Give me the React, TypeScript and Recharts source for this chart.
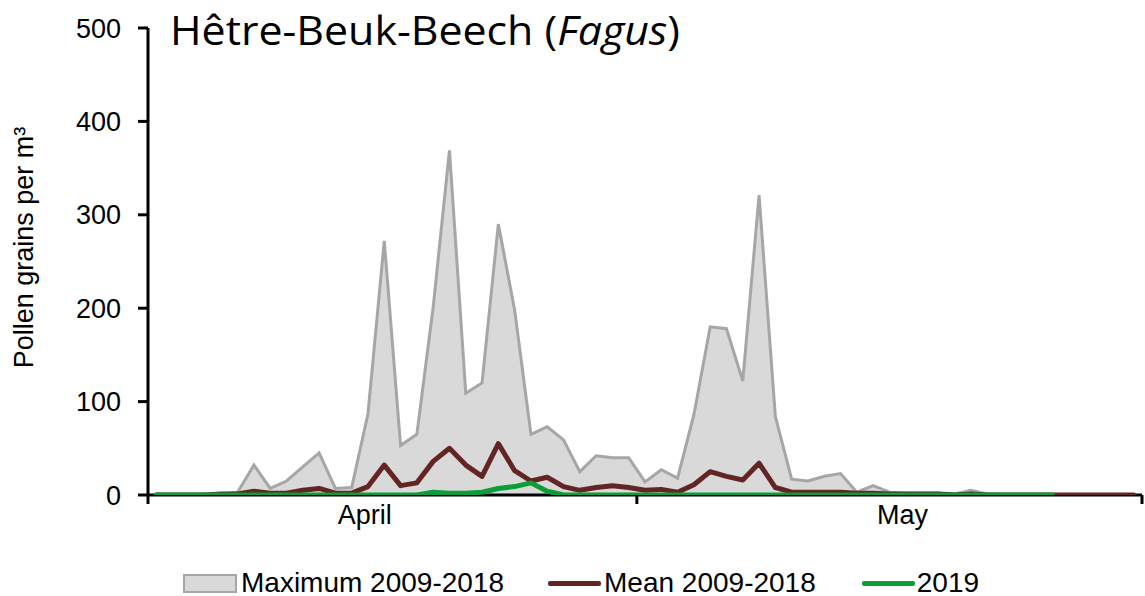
import React from "react";
import { ComposedChart, Area, Line, XAxis, YAxis } from "recharts";

// one entry per day, 1 April .. 31 May
const days: string[] = [
  ...Array.from({ length: 30 }, (_, i) => `${i + 1} Apr`),
  ...Array.from({ length: 31 }, (_, i) => `${i + 1} May`),
];

const maxValues = [
  0, 0, 0, 0, 1, 3, 32, 7, 15, 30,
  45, 7, 8, 87, 272, 53, 65, 201, 369, 109,
  120, 290, 198, 65, 73, 59, 25, 42, 40, 40,
  14, 27, 18, 86, 180, 178, 122, 321, 84, 17,
  15, 20, 23, 3, 10, 3, 2, 2, 2, 1,
  5, 1, 0, 0, 0, 0, 0, 0, 0, 0, 0,
];

const meanValues = [
  0, 0, 0, 0, 1, 1, 4, 2, 2, 5,
  7, 2, 2, 9, 32, 10, 13, 36, 50, 32,
  20, 55, 26, 15, 19, 9, 5, 8, 10, 8,
  5, 6, 3, 11, 25, 20, 16, 34, 8, 3,
  3, 3, 3, 2, 2, 1, 1, 1, 1, 0,
  1, 0, 0, 0, 0, 0, 0, 0, 0, 0, 0,
];

// 2019 season stops after 25 May
const values2019 = [
  0, 0, 0, 0, 0, 0, 0, 0, 0, 0,
  0, 0, 0, 0, 0, 0, 0, 3, 2, 2,
  3, 7, 9, 13, 4, 0, 0, 0, 0, 0,
  0, 0, 0, 0, 0, 0, 0, 0, 0, 0,
  0, 0, 0, 0, 0, 0, 0, 0, 0, 0,
  0, 0, 0, 0, 0, 0,
];

const monthNames = ["April", "May"];
const monthLabelAt = [13.3, 46.3];
const monthBounds = [0, 30, 61];
const yTicks = [0, 100, 200, 300, 400, 500];

const MAX_FILL = "#d9d9d9";
const MAX_STROKE = "#a6a6a6";
const MEAN_COLOR = "#632523";
const Y2019_COLOR = "#0c9c38";

const data = days.map((day, i) => ({
  day,
  x: i + 0.5,
  max: maxValues[i],
  mean: meanValues[i],
  y2019: i < values2019.length ? values2019[i] : null,
}));

const FONT = "'Liberation Sans', Arial, sans-serif";

function LegendBox() {
  return (
    <div
      style={{
        position: "absolute",
        left: 183,
        top: 569,
        display: "flex",
        alignItems: "center",
        fontSize: 28,
        lineHeight: 1,
        color: "#000",
        whiteSpace: "nowrap",
      }}
    >
      <span
        style={{
          width: 50,
          height: 15,
          background: MAX_FILL,
          border: `2px solid ${MAX_STROKE}`,
          marginRight: 4,
        }}
      />
      <span style={{ marginRight: 44 }}>Maximum 2009-2018</span>
      <span style={{ width: 53, height: 5, background: MEAN_COLOR, borderRadius: 2, marginRight: 3 }} />
      <span style={{ marginRight: 46 }}>Mean 2009-2018</span>
      <span style={{ width: 53, height: 5, background: Y2019_COLOR, borderRadius: 2, marginRight: 2 }} />
      <span>2019</span>
    </div>
  );
}

export default function App() {
  return (
    <div
      style={{
        position: "absolute",
        left: 0,
        top: 0,
        width: 1145,
        height: 596,
        background: "#fff",
        fontFamily: FONT,
      }}
    >
      <ComposedChart
        width={1145}
        height={596}
        data={data}
        margin={{ top: 28, right: 3, bottom: 70, left: 0 }}
      >
        <XAxis
          xAxisId="days"
          type="number"
          dataKey="x"
          domain={[0, 61]}
          ticks={monthBounds}
          tickFormatter={() => ""}
          height={2}
          tickSize={9}
          stroke="#000"
          strokeWidth={3}
          allowDataOverflow
        />
        <XAxis
          xAxisId="months"
          type="number"
          dataKey="x"
          domain={[0, 61]}
          ticks={monthLabelAt}
          tickFormatter={(v: number) => monthNames[monthLabelAt.indexOf(v)] ?? ""}
          axisLine={false}
          tickLine={false}
          tickSize={0}
          tickMargin={8}
          height={29}
          tick={{ fill: "#000", fontSize: 27 }}
          allowDataOverflow
        />
        <YAxis
          type="number"
          domain={[0, 500]}
          ticks={yTicks}
          width={148}
          tickSize={10}
          tickMargin={17}
          stroke="#000"
          strokeWidth={3}
          tick={{ fill: "#000", fontSize: 27 }}
          allowDataOverflow
        />
        <Area
          xAxisId="days"
          type="linear"
          dataKey="max"
          fill={MAX_FILL}
          fillOpacity={1}
          stroke={MAX_STROKE}
          strokeWidth={3}
          isAnimationActive={false}
        />
        <Line
          xAxisId="days"
          type="linear"
          dataKey="mean"
          stroke={MEAN_COLOR}
          strokeWidth={5}
          strokeLinejoin="round"
          strokeLinecap="round"
          dot={false}
          zIndex={700}
          isAnimationActive={false}
        />
        <Line
          xAxisId="days"
          type="linear"
          dataKey="y2019"
          stroke={Y2019_COLOR}
          strokeWidth={5}
          strokeLinejoin="round"
          strokeLinecap="round"
          dot={false}
          zIndex={710}
          isAnimationActive={false}
        />
      </ComposedChart>

      <svg
        width={1145}
        height={596}
        style={{ position: "absolute", left: 0, top: 0, pointerEvents: "none" }}
      >
        <text
          x={170}
          y={45}
          fontFamily="'Open Sans', sans-serif"
          fontSize={41}
          textLength={510}
          lengthAdjust="spacingAndGlyphs"
          fill="#000"
        >
          Hêtre-Beuk-Beech (<tspan fontStyle="italic">Fagus</tspan>)
        </text>
        <text
          transform="translate(33,247.5) rotate(-90)"
          textAnchor="middle"
          fontSize={27}
          fontFamily={FONT}
          fill="#000"
        >
          Pollen grains per m³
        </text>
      </svg>

      <LegendBox />
    </div>
  );
}
